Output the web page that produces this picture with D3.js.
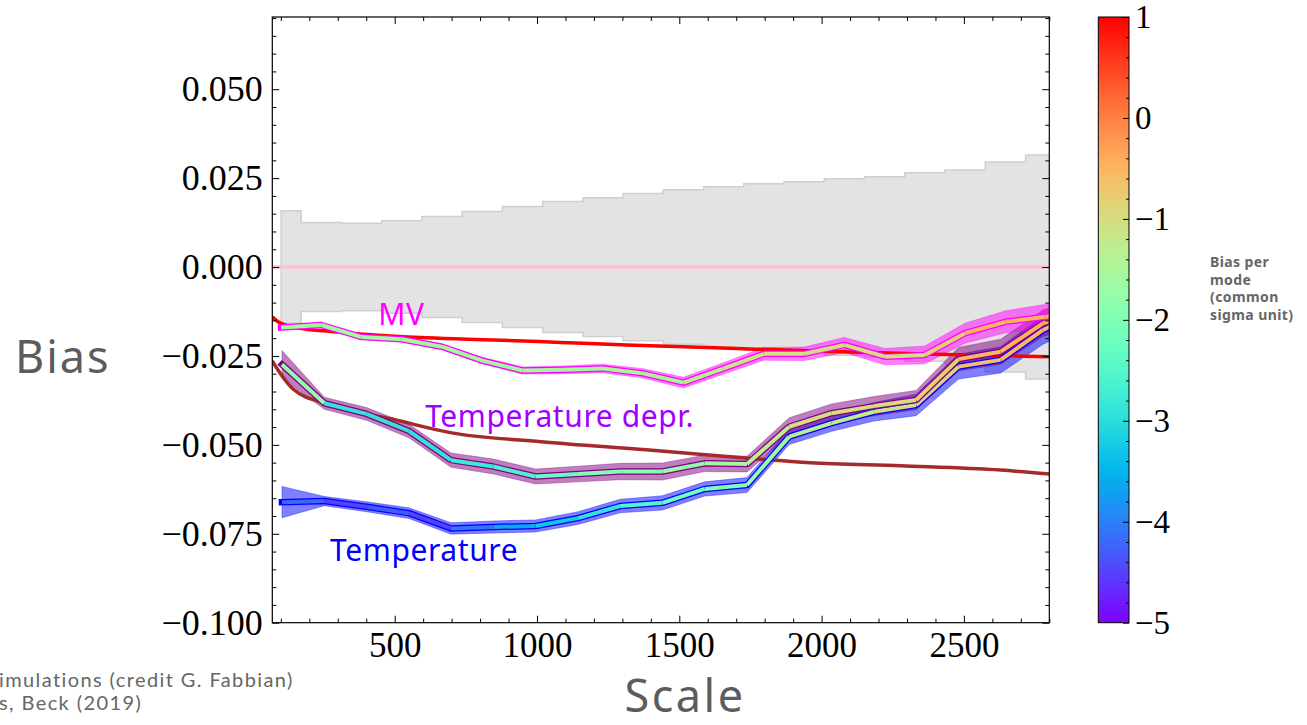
<!DOCTYPE html>
<html>
<head>
<meta charset="utf-8">
<script src="https://cdn.jsdelivr.net/npm/d3@7"></script>
<style>
  html, body { margin: 0; padding: 0; background: #fff; }
  svg { display: block; }
</style>
</head>
<body>
<svg id="chart" width="1307" height="725"></svg>
<script>
// ---- Data -------------------------------------------------------------
// Multipole bin centres shared by the MV estimator and the simulation scatter band
const ellBins = [101, 242, 384, 525, 666, 808, 949, 1091, 1232, 1373, 1515,
                 1656, 1797, 1939, 2080, 2222, 2363, 2504, 2646, 2787, 2929];
// Half-width of the simulation scatter (grey band, symmetric about zero)
const simSigma = [0.0158, 0.0125, 0.0123, 0.0130, 0.0142, 0.0156, 0.0170, 0.0184,
                  0.0195, 0.0207, 0.0217, 0.0226, 0.0234, 0.0240, 0.0248, 0.0254,
                  0.0265, 0.0273, 0.0295, 0.0315, 0.0315];
// MV estimator: bias, 1-sigma error, bias per mode (sigma units, one per segment)
const mvBias = [-0.0170, -0.0163, -0.0197, -0.0203, -0.0224, -0.0263, -0.0291, -0.0289,
                -0.0285, -0.0299, -0.0325, -0.0285, -0.0244, -0.0244, -0.0219, -0.0252,
                -0.0247, -0.0186, -0.0154, -0.0140, -0.0128];
const mvErr = [0.0005, 0.0005, 0.0006, 0.0007, 0.0008, 0.0009, 0.0010, 0.0011, 0.0012,
               0.0013, 0.0015, 0.0016, 0.0018, 0.0019, 0.0021, 0.0023, 0.0025, 0.0028,
               0.0031, 0.0035, 0.0037];
const mvModeBias = [-1.6, -1.6, -1.6, -1.6, -1.6, -1.6, -1.55, -1.55, -1.5, -1.5,
                    -1.3, -1.1, -1.05, -1.0, -1.0, -1.05, -0.8, -0.5, -0.45, -0.4];

// Multipole bin centres of the temperature-only estimators
const ellTemp = [104, 253, 401, 550, 698, 847, 995, 1144, 1292, 1441,
                 1589, 1738, 1886, 2035, 2184, 2332, 2481, 2629, 2778, 2926];
// Temperature estimator
const tempBias = [-0.0661, -0.0658, -0.0674, -0.0692, -0.0735, -0.0731, -0.0728, -0.0706,
                  -0.0672, -0.0663, -0.0624, -0.0613, -0.0477, -0.0439, -0.0407, -0.0388,
                  -0.0280, -0.0261, -0.0177, -0.0120];
const tempErr = [0.0044, 0.0013, 0.0014, 0.0015, 0.0016, 0.0017, 0.0017, 0.0018, 0.0019,
                 0.0020, 0.0020, 0.0021, 0.0022, 0.0023, 0.0026, 0.0030, 0.0035, 0.0037,
                 0.0040, 0.0042];
const tempModeBias = [-4.2, -4.5, -4.3, -4.5, -4.1, -3.6, -3.3, -2.9, -2.5, -2.2,
                      -2.0, -1.7, -1.3, -1.2, -1.1, -0.9, -0.6, -0.5, -0.5];
// Temperature estimator with source deprojection
const deprBias = [-0.0274, -0.0383, -0.0413, -0.0461, -0.0543, -0.0561, -0.0589, -0.0582,
                  -0.0575, -0.0575, -0.0552, -0.0554, -0.0449, -0.0411, -0.0391, -0.0374,
                  -0.0259, -0.0238, -0.0158, -0.0120];
const deprErr = [0.0039, 0.0017, 0.0018, 0.0019, 0.0020, 0.0021, 0.0021, 0.0022, 0.0023,
                 0.0024, 0.0023, 0.0022, 0.0025, 0.0026, 0.0027, 0.0027, 0.0033, 0.0035,
                 0.0037, 0.0038];
const deprModeBias = [-1.8, -2.9, -2.9, -2.9, -2.8, -2.6, -2.3, -2.0, -1.9, -1.8,
                      -1.6, -1.3, -1.05, -1.0, -0.95, -0.8, -0.5, -0.45, -0.4];

// Analytic predictions
const redEll = [70, 97, 167, 261, 378, 613, 847, 1082, 1316, 1700, 2065, 2400, 2800];
const redBias = [-0.0140, -0.0157, -0.0172, -0.0180, -0.0188, -0.0199, -0.0205, -0.0212,
                 -0.0219, -0.0229, -0.0238, -0.0245, -0.0252];
const brownEll = [70, 97, 143, 262, 494, 705, 1014, 1384, 1753, 1960, 2277, 2629, 2800];
const brownBias = [-0.0264, -0.0298, -0.0343, -0.0385, -0.0428, -0.0467, -0.0491, -0.0514,
                   -0.0538, -0.0550, -0.0559, -0.0571, -0.0582];

// Axis ticks
const xTicks = [500, 1000, 1500, 2000, 2500];
const yTicks = [-0.1, -0.075, -0.05, -0.025, 0, 0.025, 0.05];
const cbarTicks = [-5, -4, -3, -2, -1, 0, 1];

// ---- Layout -----------------------------------------------------------
const svg = d3.select("#chart");
const plot = { left: 272.3, right: 1049.3, top: 17, bottom: 622.7 };
const cbar = { left: 1098.3, right: 1129, top: 17, bottom: 622.7 };
const serif = "'Liberation Serif', 'DejaVu Serif', serif";
const sans = "'Noto Sans', 'Open Sans', sans-serif";

const x = d3.scaleLinear().domain([70, 2800]).range([plot.left, plot.right]);
const y = d3.scaleLinear().domain([-0.1, 0.0703]).range([plot.bottom, plot.top]);
const cScale = d3.scaleLinear().domain([-5, 1]).range([cbar.bottom, cbar.top]);

// matplotlib-style "rainbow" colormap
function rainbow(t) {
  t = Math.max(0, Math.min(1, t));
  const r = Math.min(1, Math.abs(2 * t - 0.5));
  const g = Math.sin(Math.PI * t);
  const b = Math.cos(Math.PI * t / 2);
  return d3.rgb(r * 255, g * 255, b * 255).formatHex();
}
const modeColor = v => rainbow((v + 5) / 6);

const defs = svg.append("defs");
defs.append("clipPath").attr("id", "plotClip")
  .append("rect")
  .attr("x", plot.left).attr("y", plot.top)
  .attr("width", plot.right - plot.left).attr("height", plot.bottom - plot.top);

const g = svg.append("g").attr("clip-path", "url(#plotClip)");

// Simulation scatter band (steps centred on bins)
const simRows = ellBins.map((l, i) => ({ l, s: simSigma[i] }));
g.append("path")
  .datum(simRows)
  .attr("d", d3.area().curve(d3.curveStep)
    .x(d => x(d.l)).y0(d => y(-d.s)).y1(d => y(d.s)))
  .attr("fill", "#e3e3e3")
  .attr("stroke", "#cfcfcf")
  .attr("stroke-width", 1.5);

// Zero line
g.append("line")
  .attr("x1", plot.left).attr("x2", plot.right)
  .attr("y1", y(0)).attr("y2", y(0))
  .attr("stroke", "pink").attr("stroke-width", 3.5);

// Series definitions
const series = [
  { ell: ellTemp, bias: tempBias, err: tempErr, mode: tempModeBias, color: "blue" },
  { ell: ellTemp, bias: deprBias, err: deprErr, mode: deprModeBias, color: "purple" },
  { ell: ellBins, bias: mvBias, err: mvErr, mode: mvModeBias, color: "magenta" }
];

// Error bands
series.forEach(s => {
  const rows = s.ell.map((l, i) => ({ l, v: s.bias[i], e: s.err[i] }));
  g.append("path")
    .datum(rows)
    .attr("d", d3.area().x(d => x(d.l)).y0(d => y(d.v - d.e)).y1(d => y(d.v + d.e)))
    .attr("fill", s.color).attr("fill-opacity", 0.5)
    .attr("stroke", s.color).attr("stroke-opacity", 0.35).attr("stroke-width", 1);
});

// Analytic curves
const curveLine = d3.line().curve(d3.curveMonotoneX).x(d => x(d[0])).y(d => y(d[1]));
g.append("path").datum(brownEll.map((l, i) => [l, brownBias[i]]))
  .attr("d", curveLine).attr("fill", "none")
  .attr("stroke", "#a52a2a").attr("stroke-width", 3.5);
g.append("path").datum(redEll.map((l, i) => [l, redBias[i]]))
  .attr("d", curveLine).attr("fill", "none")
  .attr("stroke", "red").attr("stroke-width", 3.5);

// Mean lines: outline in series colour, core coloured by bias per mode
const polyLine = d3.line().x(d => x(d[0])).y(d => y(d[1]));
series.forEach(s => {
  const pts = s.ell.map((l, i) => [l, s.bias[i]]);
  g.append("path").datum(pts)
    .attr("d", polyLine).attr("fill", "none")
    .attr("stroke", s.color).attr("stroke-width", 6.5)
    .attr("stroke-linejoin", "round").attr("stroke-linecap", "square");
  const segs = d3.pairs(pts).map((p, i) => ({ p, c: modeColor(s.mode[i]) }));
  g.selectAll(null).data(segs).join("path")
    .attr("d", d => polyLine(d.p))
    .attr("fill", "none")
    .attr("stroke", d => d.c)
    .attr("stroke-width", 4)
    .attr("stroke-linecap", "butt");
});

// Series labels
const labelStyle = sel => sel.attr("font-family", sans).attr("font-size", 30)
  .attr("letter-spacing", 0.6);
svg.append("text").call(labelStyle)
  .attr("x", x(442)).attr("y", y(-0.0163)).attr("fill", "#ff00ff").text("MV");
svg.append("text").call(labelStyle)
  .attr("x", x(607)).attr("y", y(-0.0450)).attr("fill", "#9f00ff").text("Temperature depr.");
svg.append("text").call(labelStyle)
  .attr("x", x(273)).attr("y", y(-0.0827)).attr("fill", "#0000ff").text("Temperature");

// ---- Axes ---------------------------------------------------------------
const xMinor = d3.range(100, 2801, 100).filter(v => v % 500 !== 0);
const yMinor = d3.range(-100, 71, 5).map(v => v / 1000).filter(v => Math.round(v * 1000) % 25 !== 0);

function styleAxis(sel, size = 35) {
  sel.select(".domain").remove();
  sel.selectAll(".tick line").attr("stroke", "#000").attr("stroke-width", 1);
  sel.selectAll(".tick text").attr("font-family", serif).attr("font-size", size).attr("fill", "#000");
}

// bottom
svg.append("g").attr("transform", `translate(0,${plot.bottom})`)
  .call(d3.axisBottom(x).tickValues(xTicks).tickFormat(d3.format("d"))
    .tickSizeInner(-7).tickSizeOuter(0).tickPadding(9.5)).call(styleAxis);
svg.append("g").attr("transform", `translate(0,${plot.bottom})`)
  .call(d3.axisBottom(x).tickValues(xMinor).tickFormat("")
    .tickSizeInner(-4).tickSizeOuter(0)).call(styleAxis);
// top
svg.append("g").attr("transform", `translate(0,${plot.top})`)
  .call(d3.axisTop(x).tickValues(xTicks).tickFormat("")
    .tickSizeInner(-7).tickSizeOuter(0)).call(styleAxis);
svg.append("g").attr("transform", `translate(0,${plot.top})`)
  .call(d3.axisTop(x).tickValues(xMinor).tickFormat("")
    .tickSizeInner(-4).tickSizeOuter(0)).call(styleAxis);
// left
svg.append("g").attr("transform", `translate(${plot.left},0)`)
  .call(d3.axisLeft(y).tickValues(yTicks).tickFormat(d3.format(".3f"))
    .tickSizeInner(-7).tickSizeOuter(0).tickPadding(9.5)).call(styleAxis, 36);
svg.append("g").attr("transform", `translate(${plot.left},0)`)
  .call(d3.axisLeft(y).tickValues(yMinor).tickFormat("")
    .tickSizeInner(-4).tickSizeOuter(0)).call(styleAxis);
// right
svg.append("g").attr("transform", `translate(${plot.right},0)`)
  .call(d3.axisRight(y).tickValues(yTicks).tickFormat("")
    .tickSizeInner(-7).tickSizeOuter(0)).call(styleAxis);
svg.append("g").attr("transform", `translate(${plot.right},0)`)
  .call(d3.axisRight(y).tickValues(yMinor).tickFormat("")
    .tickSizeInner(-4).tickSizeOuter(0)).call(styleAxis);

// frame
svg.append("rect")
  .attr("x", plot.left).attr("y", plot.top)
  .attr("width", plot.right - plot.left).attr("height", plot.bottom - plot.top)
  .attr("fill", "none").attr("stroke", "#000").attr("stroke-width", 1.2);

// Axis titles
svg.append("text").attr("x", 15).attr("y", 373)
  .attr("font-family", sans).attr("font-size", 45)
  .attr("letter-spacing", 2).attr("fill", "#5c5c5c").text("Bias");
svg.append("text").attr("x", 685).attr("y", 712).attr("text-anchor", "middle")
  .attr("font-family", sans).attr("font-size", 45)
  .attr("letter-spacing", 2.5).attr("fill", "#5c5c5c").text("Scale");

// ---- Colour bar -----------------------------------------------------------
const grad = defs.append("linearGradient").attr("id", "cbarGrad")
  .attr("x1", 0).attr("y1", 1).attr("x2", 0).attr("y2", 0);
d3.range(0, 1.0001, 0.02).forEach(t => {
  grad.append("stop").attr("offset", t).attr("stop-color", rainbow(t));
});
svg.append("rect")
  .attr("x", cbar.left).attr("y", cbar.top)
  .attr("width", cbar.right - cbar.left).attr("height", cbar.bottom - cbar.top)
  .attr("fill", "url(#cbarGrad)").attr("stroke", "#000").attr("stroke-width", 1);

const cbMinor = d3.range(-50, 11, 2).map(v => v / 10).filter(v => Math.abs(v - Math.round(v)) > 1e-6);
svg.append("g").attr("transform", `translate(${cbar.right},0)`)
  .call(d3.axisRight(cScale).tickValues(cbarTicks).tickFormat(d3.format("d"))
    .tickSizeInner(-6).tickSizeOuter(0).tickPadding(6)).call(styleAxis, 33);
svg.append("g").attr("transform", `translate(${cbar.right},0)`)
  .call(d3.axisRight(cScale).tickValues(cbMinor).tickFormat("")
    .tickSizeInner(-3).tickSizeOuter(0)).call(styleAxis);

const cbLabel = svg.append("text")
  .attr("font-family", sans).attr("font-size", 14).attr("font-weight", "bold")
  .attr("letter-spacing", 0.4).attr("fill", "#666");
["Bias per", "mode", "(common", "sigma unit)"].forEach((t, i) => {
  cbLabel.append("tspan").attr("x", 1210).attr("y", 267 + i * 17.5).text(t);
});

// ---- Source note ------------------------------------------------------------
const note = svg.append("text")
  .attr("font-family", "Lato, 'Noto Sans', sans-serif").attr("font-size", 20)
  .attr("letter-spacing", 1.4).attr("fill", "#666");
note.append("tspan").attr("x", -1).attr("y", 687).text("imulations (credit G. Fabbian)");
note.append("tspan").attr("x", -1).attr("y", 710).text("s, Beck (2019)");
</script>
</body>
</html>
